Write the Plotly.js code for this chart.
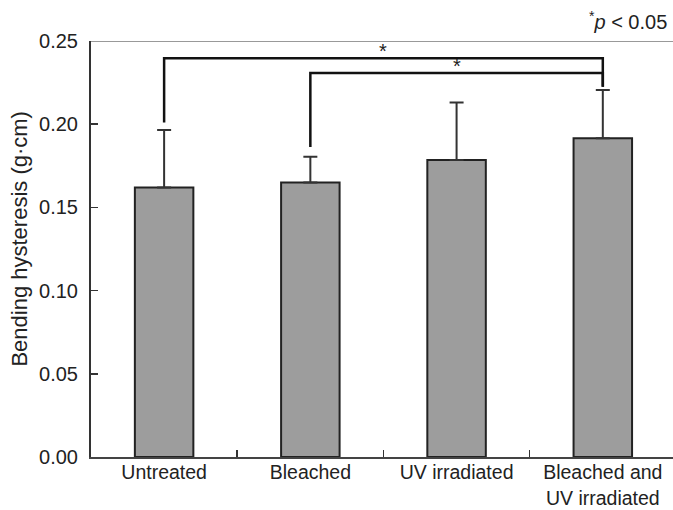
<!DOCTYPE html>
<html>
<head>
<meta charset="utf-8">
<script src="https://cdn.plot.ly/plotly-3.0.1.min.js"></script>
<style>html,body{margin:0;padding:0;background:#fff;}#chart{width:673px;height:510px;}</style>
</head>
<body>
<div id="chart"></div>
<script>
// ---- data ----
const categories = ["Untreated", "Bleached", "UV irradiated", "Bleached and<br>UV irradiated"];
const means = [0.162, 0.165, 0.1785, 0.1915];
const sdUpper = [0.0345, 0.0155, 0.0345, 0.029];
const yTicks = [0.00, 0.05, 0.10, 0.15, 0.20, 0.25];
// significance brackets: from category index, to category index, bar height, leg ends
const bracketFrom = [0, 1];
const bracketTo = [3, 3];
const bracketHeight = [0.2396, 0.2308];
const bracketLeftEnd = [0.201, 0.1863];
const bracketRightEnd = [0.2225, 0.2225];
const bracketLabel = ["*", "*"];
const noteText = "<sup>*</sup><i>p</i> &lt; 0.05";
const yTitle = "Bending hysteresis (g·cm)";

const FONT = "Liberation Sans, Arial, Helvetica, sans-serif";

const traces = [{
  type: "bar",
  x: categories,
  y: means,
  width: 0.4,
  marker: {color: "#9d9d9d", line: {color: "#222", width: 2}},
  error_y: {type: "data", symmetric: false, array: sdUpper, arrayminus: means.map(() => 0),
            color: "#333", thickness: 2, width: 7},
  hoverinfo: "skip",
  showlegend: false
}];

for (let i = 0; i < bracketFrom.length; i++) {
  const a = categories[bracketFrom[i]], b = categories[bracketTo[i]];
  traces.push({
    type: "scatter", mode: "lines",
    x: [a, a, b, b],
    y: [bracketLeftEnd[i], bracketHeight[i], bracketHeight[i], bracketRightEnd[i]],
    line: {color: "#111", width: 2.5},
    hoverinfo: "skip", showlegend: false, cliponaxis: false
  });
}

const annotations = bracketFrom.map((f, i) => ({
  x: (f + bracketTo[i]) / 2, y: bracketHeight[i], xref: "x", yref: "y",
  text: bracketLabel[i], showarrow: false, yanchor: "bottom", yshift: -6,
  font: {family: FONT, size: 20, color: "#222"}
}));
annotations.push({
  x: 0.993, y: 1.05, xref: "paper", yref: "paper", xanchor: "right", yanchor: "middle",
  text: noteText, showarrow: false, font: {family: FONT, size: 20, color: "#222"}
});
// y-axis title
annotations.push({
  x: -0.122, y: 0.525, xref: "paper", yref: "paper", xanchor: "center", yanchor: "middle",
  text: yTitle, textangle: -90, showarrow: false, font: {family: FONT, size: 22, color: "#222"}
});

const layout = {
  width: 673, height: 510,
  margin: {l: 91, r: 0, t: 41, b: 53, pad: 0},
  paper_bgcolor: "#fff", plot_bgcolor: "#fff",
  font: {family: FONT, size: 20, color: "#222"},
  xaxis: {
    type: "category", range: [-0.5, 3.48], tickson: "boundaries",
    ticks: "inside", ticklen: 7, tickwidth: 1.5, tickcolor: "#333",
    showline: true, linecolor: "#444", linewidth: 2, showgrid: false, zeroline: false,
    ticklabelstandoff: -3,
    tickfont: {family: FONT, size: 19.5, color: "#222"}, automargin: false
  },
  yaxis: {
    range: [0, 0.25], tickvals: yTicks, tickformat: ".2f",
    ticks: "inside", ticklen: 7, tickwidth: 1.5, tickcolor: "#333",
    showline: true, linecolor: "#333", linewidth: 2, showgrid: false, zeroline: false,
    ticklabelstandoff: 7,
    tickfont: {family: FONT, size: 20, color: "#222"},
    automargin: false
  },
  shapes: [{type: "line", xref: "paper", yref: "y", x0: 0, x1: 1, y0: 0.25, y1: 0.25,
            line: {color: "#999", width: 2}}],
  annotations: annotations,
  bargap: 0.6
};

Plotly.newPlot("chart", traces, layout, {displayModeBar: false, staticPlot: true});
</script>
</body>
</html>
